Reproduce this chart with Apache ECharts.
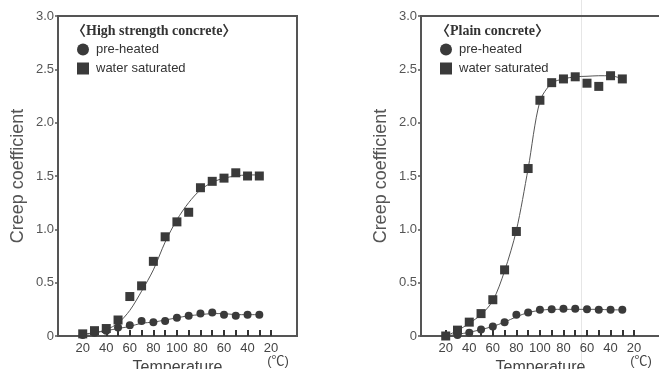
<!DOCTYPE html>
<html>
<head>
<meta charset="utf-8">
<script src="https://cdn.jsdelivr.net/npm/echarts@6/dist/echarts.min.js"></script>
<style>html,body{margin:0;padding:0;background:#fff}#c{width:659px;height:369px}</style>
</head>
<body>
<div id="c"></div>
<script>
// Temperature sequence (heating 20->100, then cooling 100->30), °C
const temps = [20,30,40,50,60,70,80,90,100,90,80,70,60,50,40,30];
const tickLabels = ['20','40','60','80','100','80','60','40','20'];
const panelTitles = ['〈High strength concrete〉','〈Plain concrete〉'];
const seriesNames = ['pre-heated','water saturated'];

// High strength concrete
const hsPre      = [0.01,0.03,0.05,0.08,0.10,0.14,0.13,0.14,0.17,0.19,0.21,0.22,0.20,0.19,0.20,0.20];
const hsPreFit   = [0.01,0.03,0.05,0.07,0.09,0.12,0.13,0.15,0.17,0.19,0.20,0.21,0.21,0.20,0.20,0.20];
const hsWater    = [0.02,0.05,0.07,0.15,0.37,0.47,0.70,0.93,1.07,1.16,1.39,1.45,1.48,1.53,1.50,1.50];
const hsWaterFit = [0.02,0.03,0.06,0.12,0.24,0.42,0.62,0.88,1.09,1.25,1.37,1.44,1.48,1.50,1.51,1.51];

// Plain concrete
const pcPre      = [0.00,0.01,0.03,0.06,0.09,0.13,0.20,0.22,0.245,0.25,0.255,0.255,0.25,0.245,0.245,0.245];
const pcPreFit   = [0.00,0.015,0.035,0.06,0.09,0.13,0.18,0.22,0.24,0.25,0.25,0.25,0.25,0.25,0.245,0.245];
const pcWater    = [0.00,0.055,0.13,0.21,0.34,0.62,0.98,1.57,2.21,2.375,2.41,2.43,2.37,2.34,2.44,2.41];
const pcWaterFit = [0.00,0.05,0.12,0.20,0.33,0.61,0.99,1.57,2.20,2.37,2.41,2.43,2.435,2.44,2.44,2.41];

const panels = [
  {pre: hsPre, preFit: hsPreFit, water: hsWater, waterFit: hsWaterFit},
  {pre: pcPre, preFit: pcPreFit, water: pcWater, waterFit: pcWaterFit}
];

const gridLefts = [58, 421];
const tickPos = tickLabels.map((_, k) => k * 2);
const minorPos = [];
for (let k = 0; k <= (tickLabels.length - 1) * 2; k++) minorPos.push(k);

const mk = '#3a3a3a';
const font = "'Liberation Sans', Arial, sans-serif";

const option = {
  backgroundColor: '#fff',
  animation: false,
  title: panelTitles.map((t, p) => ({
    text: t, left: gridLefts[p] + 14 + (p ? 1 : 0), top: 24, padding: 0,
    textStyle: {fontFamily: "'Liberation Serif', 'Noto Sans CJK SC', serif", fontWeight: 'bold', fontSize: 14, color: '#333'}
  })),
  legend: panels.map((_, p) => ({
    left: gridLefts[p] + 14, top: 38, orient: 'vertical',
    itemWidth: 12, itemHeight: 12, itemGap: 6, selectedMode: false,
    data: [{name: seriesNames[0], icon: 'circle'}, {name: seriesNames[1], icon: 'rect'}],
    textStyle: {fontFamily: font, fontSize: 13, color: '#333', padding: [0,0,0,2]}
  })),
  grid: gridLefts.map(l => ({
    left: l, top: 16, width: 239, height: 320, show: true, outerBoundsMode: 'none',
    borderColor: '#555', borderWidth: 2
  })),
  xAxis: gridLefts.map((_, p) => ({
    type: 'value', gridIndex: p, min: -2.1, max: 18.2,
    name: 'Temperature', nameLocation: 'middle', nameGap: 18,
    nameTextStyle: {fontFamily: font, fontSize: 16, color: '#444'},
    axisLine: {show: true, onZero: false, lineStyle: {color: '#555', width: 2}},
    axisTick: {show: true, inside: true, length: 6, customValues: minorPos, lineStyle: {color: '#333', width: 2}},
    axisLabel: {customValues: tickPos, margin: 6, fontFamily: font, fontSize: 13, color: '#444',
      formatter: v => tickLabels[Math.round(v / 2)]},
    splitLine: {show: false}
  })),
  yAxis: gridLefts.map((_, p) => ({
    type: 'value', gridIndex: p, min: 0, max: 3, interval: 0.5,
    name: 'Creep coefficient', nameLocation: 'middle', nameGap: 31,
    nameTextStyle: {fontFamily: font, fontSize: 18, color: '#555'},
    axisLine: {show: true, onZero: false, lineStyle: {color: '#555', width: 2}},
    axisTick: {show: true, inside: false, length: 3, lineStyle: {color: '#555', width: 1.5}},
    axisLabel: {margin: 4, fontFamily: font, fontSize: 13, color: '#555',
      formatter: v => v === 0 ? '0' : v.toFixed(1)},
    splitLine: {show: false}
  })),
  series: [],
  graphic: [
    {type: 'line', shape: {x1: 581.5, y1: 0, x2: 581.5, y2: 369}, style: {stroke: '#e6e6e6', lineWidth: 1}, z: -1},
    ...gridLefts.map(l => ({type: 'text', x: l + 220, y: 361, style: {text: '(℃)', fontFamily: "'Liberation Sans', 'Noto Sans CJK SC', sans-serif", fontSize: 13, fill: '#444', textAlign: 'center', textVerticalAlign: 'middle'}}))
  ]
};

panels.forEach((d, p) => {
  const pts = arr => temps.map((t, i) => [i, arr[i]]);
  option.series.push(
    {type: 'line', name: 'fit-pre-' + p, xAxisIndex: p, yAxisIndex: p, data: pts(d.preFit), smooth: 0.3,
      showSymbol: false, lineStyle: {color: '#555', width: 1}, z: 1, silent: true},
    {type: 'line', name: 'fit-water-' + p, xAxisIndex: p, yAxisIndex: p, data: pts(d.waterFit), smooth: 0.3,
      showSymbol: false, lineStyle: {color: '#555', width: 1}, z: 1, silent: true},
    {type: 'scatter', name: seriesNames[0], xAxisIndex: p, yAxisIndex: p, data: pts(d.pre),
      symbol: 'circle', symbolSize: 8, itemStyle: {color: mk, opacity: 1}, z: 3},
    {type: 'scatter', name: seriesNames[1], xAxisIndex: p, yAxisIndex: p, data: pts(d.water),
      symbol: 'rect', symbolSize: 9, itemStyle: {color: mk, opacity: 1}, z: 3}
  );
});

const chart = echarts.init(document.getElementById('c'), null, {renderer: 'canvas'});
chart.setOption(option);
</script>
</body>
</html>
